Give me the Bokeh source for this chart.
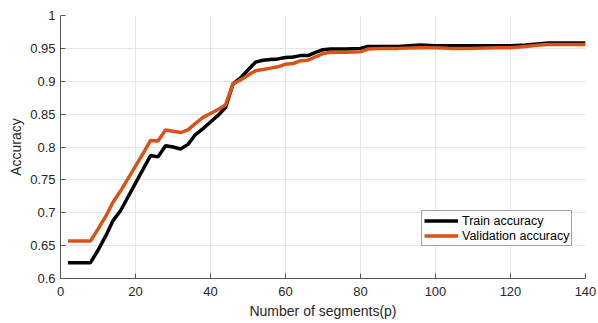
from bokeh.plotting import figure
from bokeh.models import Range1d, FixedTicker, Legend, LegendItem
from bokeh.embed import file_html
from bokeh.resources import INLINE

segments = [2, 4, 6, 8, 10, 12, 14, 16, 18, 20, 22, 24, 26, 28, 30, 32, 34, 36, 38, 40,
            42, 44, 46, 48, 50, 52, 54, 56, 58, 60, 62, 64, 66, 68, 70, 72, 76, 80, 82,
            86, 90, 96, 100, 104, 110, 116, 120, 124, 128, 130, 134, 140]
train_acc = [0.624, 0.624, 0.624, 0.624, 0.643, 0.664, 0.688, 0.703, 0.724, 0.745, 0.766,
             0.787, 0.785, 0.802, 0.800, 0.797, 0.804, 0.819, 0.828, 0.838, 0.848, 0.860,
             0.896, 0.905, 0.917, 0.929, 0.932, 0.933, 0.934, 0.936, 0.937, 0.939, 0.939,
             0.944, 0.948, 0.949, 0.949, 0.950, 0.953, 0.953, 0.953, 0.955, 0.954, 0.954,
             0.954, 0.954, 0.954, 0.955, 0.957, 0.958, 0.958, 0.958]
val_acc = [0.657, 0.657, 0.657, 0.657, 0.675, 0.694, 0.716, 0.733, 0.752, 0.771, 0.790,
           0.810, 0.809, 0.826, 0.824, 0.822, 0.826, 0.836, 0.845, 0.851, 0.857, 0.864,
           0.896, 0.902, 0.909, 0.916, 0.918, 0.920, 0.922, 0.926, 0.927, 0.931, 0.932,
           0.937, 0.942, 0.944, 0.944, 0.945, 0.949, 0.950, 0.950, 0.951, 0.951, 0.950,
           0.950, 0.951, 0.951, 0.953, 0.955, 0.956, 0.956, 0.956]

y_ticks = [0.6, 0.65, 0.7, 0.75, 0.8, 0.85, 0.9, 0.95, 1.0]
y_tick_labels = ["0.6", "0.65", "0.7", "0.75", "0.8", "0.85", "0.9", "0.95", "1"]
x_ticks = [0, 20, 40, 60, 80, 100, 120, 140]
x_title = "Number of segments(p)"
y_title = "Accuracy"

FONT = "Liberation Sans"
TXT = "#262626"
AX = "#555555"

p = figure(width=598, height=323, output_backend="svg", toolbar_location=None,
           x_range=Range1d(0, 140), y_range=Range1d(0.6, 1.0),
           min_border_left=60, min_border_right=13, min_border_top=15, min_border_bottom=45)
p.outline_line_color = None
p.background_fill_color = "white"

for ax in (p.xaxis[0], p.yaxis[0]):
    ax.axis_line_color = AX
    ax.major_tick_line_color = AX
    ax.major_tick_in = 5
    ax.major_tick_out = 0
    ax.minor_tick_line_color = None
    ax.major_label_text_font = FONT
    ax.major_label_text_font_size = "13px"
    ax.major_label_text_color = TXT
    ax.axis_label_text_font = FONT
    ax.axis_label_text_font_size = "14px"
    ax.axis_label_text_font_style = "normal"
    ax.axis_label_text_color = TXT

p.xaxis.ticker = FixedTicker(ticks=x_ticks)
p.yaxis.ticker = FixedTicker(ticks=y_ticks)
p.yaxis.major_label_overrides = {t: l for t, l in zip(y_ticks, y_tick_labels)}
p.xaxis.axis_label = x_title
p.yaxis.axis_label = y_title
p.xaxis.major_label_standoff = 8
p.xaxis.axis_label_standoff = 4
p.yaxis.major_label_standoff = 5
p.yaxis.axis_label_standoff = 3

p.xgrid.ticker = FixedTicker(ticks=x_ticks)
p.ygrid.ticker = FixedTicker(ticks=y_ticks)
p.grid.grid_line_color = "#e6e6e6"
p.grid.grid_line_width = 1

r_train = p.line(segments, train_acc, line_color="#000000", line_width=3.5)
r_val = p.line(segments, val_acc, line_color="#D95319", line_width=3.5)

legend = Legend(items=[LegendItem(label="Train accuracy", renderers=[r_train]),
                       LegendItem(label="Validation accuracy", renderers=[r_val])],
                location=(361, 32))
legend.border_line_color = "#404040"
legend.border_line_width = 1
legend.background_fill_color = "white"
legend.background_fill_alpha = 1
legend.label_text_font = FONT
legend.label_text_font_size = "12.5px"
legend.label_text_color = "#000000"
legend.glyph_width = 34
legend.glyph_height = 15
legend.label_height = 15
legend.label_standoff = 4
legend.padding = 2
legend.spacing = 0
legend.margin = 0
p.add_layout(legend, "center")

open("out.html", "w").write(file_html(p, INLINE))
